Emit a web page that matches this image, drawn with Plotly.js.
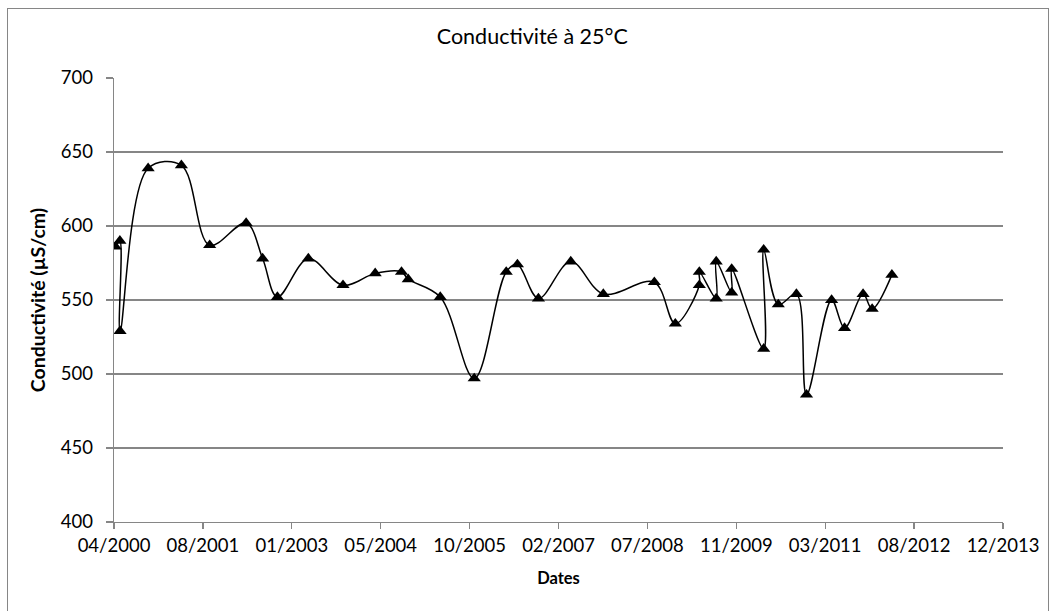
<!DOCTYPE html>
<html>
<head>
<meta charset="utf-8">
<script src="https://cdn.plot.ly/plotly-3.0.1.min.js"></script>
<style>
  html, body { margin: 0; padding: 0; background: #fff; }
  #chart { position: absolute; left: 0; top: 0; width: 1052px; height: 611px; }
  #frame { position: absolute; left: 7px; top: 8px; width: 1040px; height: 610px;
           border-left: 1px solid #868686; border-top: 1px solid #868686; border-right: 1px solid #868686;
           pointer-events: none; }
</style>
</head>
<body>
<div id="chart"></div>
<div id="frame"></div>
<script>
// Sampling dates (in plotting order) and conductivity values (µS/cm)
const dates = [
  '2000-04-23', '2000-05-18', '2000-05-19', '2000-10-24', '2001-04-29',
  '2001-10-05', '2002-04-28', '2002-07-30', '2002-10-21', '2003-04-13',
  '2003-10-25', '2004-04-23', '2004-09-18', '2004-10-26', '2005-04-24',
  '2005-11-01', '2006-04-30', '2006-07-02', '2006-10-28', '2007-04-28',
  '2007-10-28', '2008-08-10', '2008-12-06', '2009-04-20', '2009-04-20',
  '2009-07-24', '2009-07-24', '2009-10-19', '2009-10-19', '2010-04-17',
  '2010-04-17', '2010-07-08', '2010-10-18', '2010-12-14', '2011-05-04',
  '2011-07-16', '2011-10-28', '2011-12-18', '2012-04-07'
];
const conductivity = [
  586, 590, 529, 639, 641,
  587, 602, 578, 552, 578,
  560, 568, 569, 564, 552,
  497, 569, 574, 551, 576,
  554, 562, 534, 560, 569,
  551, 576, 555, 571, 517,
  584, 547, 554, 486, 550,
  531, 554, 544, 567
];

const chartTitle = 'Conductivité à 25°C';
const xTitle = 'Dates';
const yTitle = 'Conductivité (µS/cm)';
const xRange = ['2000-04-15', '2013-12-23'];
const xTickStart = '2000-04-15';
const xTickDays = 500;
const yRange = [400, 700];
const yStep = 50;

const FONT = 'Lato, "Open Sans", sans-serif';
const AX = '#868686';

const trace = {
  type: 'scatter',
  mode: 'lines+markers',
  x: dates,
  y: conductivity,
  line: { color: '#000000', width: 1.5, shape: 'spline', smoothing: 1 },
  marker: { symbol: 'triangle-up', size: 11.5, color: '#000000' },
  showlegend: false
};

const layout = {
  width: 1052,
  height: 611,
  margin: { l: 113.5, r: 48.7, t: 77.7, b: 89.3 },
  paper_bgcolor: '#ffffff',
  plot_bgcolor: '#ffffff',
  font: { family: FONT, color: '#000000', size: 18 },
  title: {
    text: chartTitle,
    font: { family: FONT, size: 21.5, color: '#000000' },
    xref: 'container', x: 0.506, xanchor: 'center',
    yref: 'container', y: 1 - 36 / 611, yanchor: 'middle'
  },
  xaxis: {
    type: 'date',
    range: xRange,
    tick0: xTickStart,
    dtick: xTickDays * 86400000,
    tickformat: '%m/%Y',
    showgrid: false,
    zeroline: false,
    showline: true,
    linecolor: AX,
    linewidth: 1.3,
    ticks: 'outside',
    ticklen: 6,
    tickwidth: 1.3,
    tickcolor: AX,
    tickfont: { family: FONT, size: 18.5, color: '#000000' },
    title: { text: xTitle, font: { family: FONT, size: 16.5, color: '#000000', weight: 'bold' }, standoff: 18 }
  },
  yaxis: {
    range: yRange,
    dtick: yStep,
    tick0: 400,
    showgrid: true,
    gridcolor: AX,
    gridwidth: 1.3,
    zeroline: false,
    showline: true,
    linecolor: AX,
    linewidth: 1.3,
    ticks: 'outside',
    ticklen: 7,
    tickwidth: 1.3,
    tickcolor: AX,
    ticklabelstandoff: 9,
    tickfont: { family: FONT, size: 18.5, color: '#000000' },
    title: { text: yTitle, font: { family: FONT, size: 19.5, color: '#000000', weight: 'bold' }, standoff: 10 }
  }
};

Plotly.newPlot('chart', [trace], layout, { staticPlot: true, displayModeBar: false });
</script>
</body>
</html>
